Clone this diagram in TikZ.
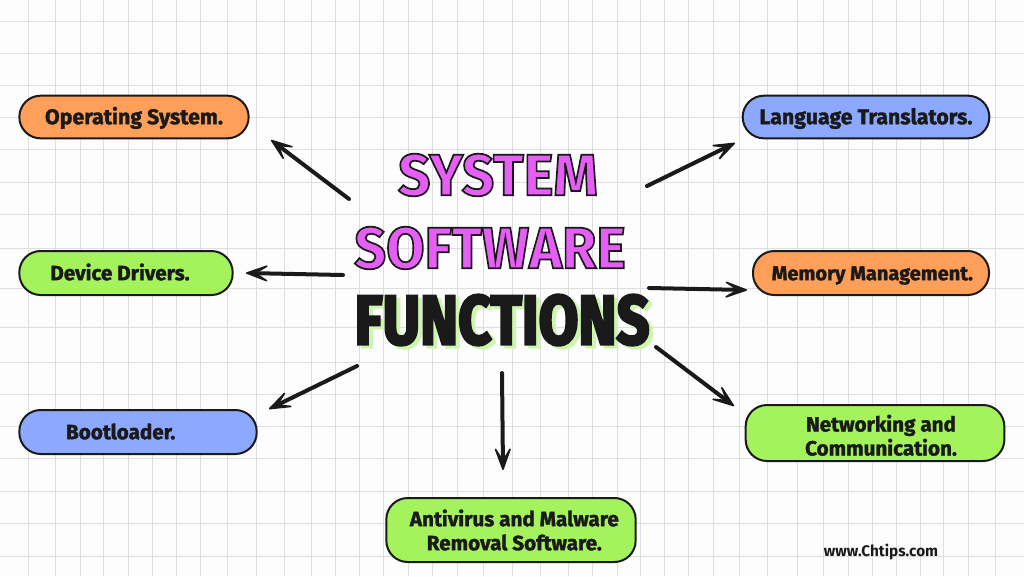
\documentclass[tikz,border=0pt]{standalone}
\usepackage{graphicx}
\usepackage{fontspec}
\setmainfont{Fira Sans}
\newfontfamily\boxfont{Fira Sans}[BoldFeatures={FakeBold=1.6}]
\usetikzlibrary{arrows.meta}
\definecolor{paper}{HTML}{FDFDFD}
\definecolor{gridline}{HTML}{DEDEDE}
\definecolor{ink}{HTML}{1A1A1A}
\definecolor{boxorange}{HTML}{FF9F5A}
\definecolor{boxgreen}{HTML}{A4F25C}
\definecolor{boxblue}{HTML}{8CA8FF}
\definecolor{titlepink}{HTML}{E65FF5}
\definecolor{titleglow}{HTML}{CDF5AE}
\newcommand{\outlined}[3]{\special{pdf:literal 2 Tr #1 w #2 RG}#3\special{pdf:literal 0 Tr}}
\tikzset{
  box/.style = {draw = ink, line width = 1.5pt, rounded corners = 16pt, font = \boxfont\bfseries\fontsize{15.5}{18}\selectfont, text = ink, inner sep = 0pt, align = center},
  oneline/.style = {text height = 11pt, text depth = 0.2pt},
  arrow/.style = {draw = ink, line width = 3pt, line cap = round, -{Stealth[length = 22pt, width = 16pt, inset = 13pt, round, line width = 1.2pt]}},
  headline/.style = {font = \bfseries\fontsize{44}{46}\selectfont, inner sep = 0pt},
  bighead/.style = {font = \bfseries\fontsize{52}{54}\selectfont, inner sep = 0pt}
}
\begin{document}
\begin{tikzpicture}[x = 0.75pt, y = -0.75pt]
\fill [paper] (0,0) rectangle (1024,576);
\useasboundingbox (0,0) rectangle (1024,576);
\foreach \gx in {28,55,80,103,128,152,176,200,227,256,284,311,335,359,383,408,432,457,483,512,540,568,592,617,640,664,688,713,739,767,797,823,848,872,896,920,943,968,995}
  \draw [gridline, line width = 0.7pt] (\gx,0) -- (\gx,576);
\foreach \gy in {21,53,85,117,149,182,214,248,288,327,362,394,426,458,491,523,556}
  \draw [gridline, line width = 0.7pt] (0,\gy) -- (1024,\gy);
% title
\node (system) [headline, text = titlepink] at (498,175) {\scalebox{0.965}[1]{\outlined{1.3}{0.1 0.1 0.1}{SYSTEM}}};
\node (software) [headline, text = titlepink] at (490,248) {\scalebox{0.95}[1]{\outlined{1.3}{0.1 0.1 0.1}{SOFTWARE}}};
\node (glow) [bighead, text = titleglow] at (506,323) {\scalebox{0.83}[1]{\outlined{2.2}{0.8 0.96 0.68}{FUNCTIONS}}};
\node (functions) [bighead, text = ink] at (502,320) {\scalebox{0.83}[1]{\outlined{2.2}{0.1 0.1 0.1}{FUNCTIONS}}};
% boxes
\node (opsys) [box, oneline, font = \boxfont\bfseries\fontsize{16}{18}\selectfont, fill = boxorange, minimum width = 172pt, minimum height = 32pt] at (134,117) {Operating System.};
\node (device) [box, oneline, fill = boxgreen, minimum width = 160pt, minimum height = 33pt] at (126,273) {Device Drivers.\hspace{9pt}};
\node (boot) [box, oneline, fill = boxblue, minimum width = 178pt, minimum height = 33pt] at (138,432) {Bootloader.\hspace{26pt}};
\node (antivirus) [box, fill = boxgreen, minimum width = 187pt, minimum height = 48pt] at (511,530) {\hspace*{5pt}Antivirus and Malware\\\hspace*{5pt}Removal Software.};
\node (network) [box, fill = boxgreen, minimum width = 194pt, minimum height = 42pt] at (875,433) {\rule{0pt}{16pt}\hspace*{9pt}Networking and\\\hspace*{9pt}Communication.};
\node (memory) [box, oneline, font = \boxfont\bfseries\fontsize{15}{18}\selectfont, fill = boxorange, minimum width = 177pt, minimum height = 33pt] at (871,273) {\hspace*{2pt}Memory Management.};
\node (language) [box, oneline, font = \boxfont\bfseries\fontsize{16}{18}\selectfont, fill = boxblue, minimum width = 185pt, minimum height = 32pt] at (866,117) {Language Translators.};
\node (site) [font = \bfseries\fontsize{11.5}{13}\selectfont, text = ink, inner sep = 0pt] at (881,552) {www.Chtips.com};
% arrow ends
\coordinate (opsys tail) at (349,199);
\coordinate (opsys tip) at (271,140);
\coordinate (device tail) at (343,275);
\coordinate (device tip) at (246,273);
\coordinate (boot tail) at (357,366);
\coordinate (boot tip) at (269,409);
\coordinate (antivirus tail) at (502,373);
\coordinate (antivirus tip) at (503,470);
\coordinate (network tail) at (656,347);
\coordinate (network tip) at (734,406);
\coordinate (memory tail) at (649,288);
\coordinate (memory tip) at (747,290);
\coordinate (language tail) at (647,186);
\coordinate (language tip) at (735,143);
\foreach \name in {opsys, device, boot, antivirus, network, memory, language}
  \draw [arrow] (\name\space tail) -- (\name\space tip);
\end{tikzpicture}
\end{document}
